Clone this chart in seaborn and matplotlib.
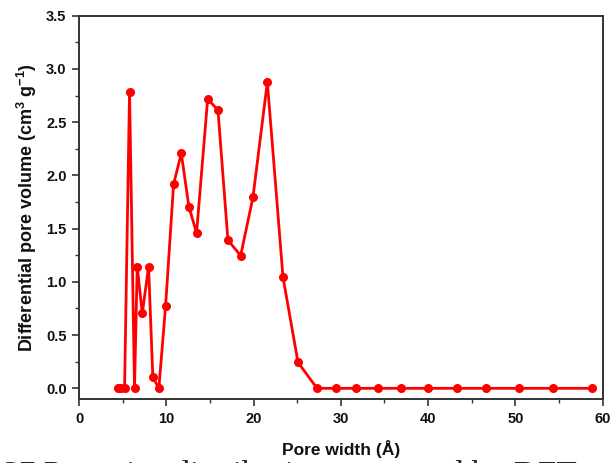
import numpy as np
import pandas as pd
import matplotlib
matplotlib.use("Agg")
import matplotlib.pyplot as plt
from matplotlib.ticker import MultipleLocator
import seaborn as sns

# pore width (Å) and differential pore volume (cm3 g-1)
pore_width = [4.45, 4.84, 5.22, 5.79, 6.36, 6.67, 7.25, 7.97, 8.46, 9.15,
              9.92, 10.84, 11.72, 12.59, 13.47, 14.74, 15.92, 17.06, 18.52,
              19.93, 21.58, 23.37, 25.09, 27.27, 29.42, 31.79, 34.27, 36.9,
              40.0, 43.26, 46.6, 50.4, 54.3, 58.8]
pore_volume = [0.0, 0.0, 0.0, 2.786, 0.0, 1.142, 0.704, 1.142, 0.103, 0.0,
               0.773, 1.919, 2.207, 1.706, 1.459, 2.717, 2.614, 1.393, 1.246,
               1.794, 2.877, 1.045, 0.244, 0.0, 0.0, 0.0, 0.0, 0.0,
               0.0, 0.0, 0.0, 0.0, 0.0, 0.0]

df = pd.DataFrame({"width": pore_width, "volume": pore_volume})

sns.set_style("ticks")
plt.rcParams["font.family"] = ["Liberation Sans", "DejaVu Sans"]
plt.rcParams["font.weight"] = "bold"
plt.rcParams["mathtext.fontset"] = "custom"
plt.rcParams["mathtext.bf"] = "Liberation Sans:bold"
plt.rcParams["mathtext.rm"] = "Liberation Sans"

fig = plt.figure(figsize=(6.11, 4.63), dpi=100)
ax = fig.add_axes([0.1293, 0.1376, 0.8571, 0.8285])

sns.lineplot(data=df, x="width", y="volume", ax=ax, color="#ff0000",
             linewidth=2.0, marker="o", markersize=6.5,
             markeredgecolor="#ff0000", markeredgewidth=0)

ax.set_xlim(0, 60)
ax.set_ylim(-0.103, 3.5)
ax.xaxis.set_major_locator(MultipleLocator(10))
ax.xaxis.set_minor_locator(MultipleLocator(5))
ax.yaxis.set_major_locator(MultipleLocator(0.5))
ax.yaxis.set_minor_locator(MultipleLocator(0.25))
ax.yaxis.set_major_formatter(matplotlib.ticker.FormatStrFormatter("%.1f"))

ax.tick_params(which="major", direction="out", length=5, width=1.2,
               labelsize=10.5, pad=4, top=False, right=False,
               labelcolor="#111111", color="#333333")
ax.tick_params(which="minor", direction="out", length=3, width=1.0,
               top=False, right=False, color="#333333")
for lab in ax.get_xticklabels() + ax.get_yticklabels():
    lab.set_fontweight("bold")

for s in ax.spines.values():
    s.set_visible(True)
    s.set_linewidth(1.4)
    s.set_color("#333333")

ax.set_xlabel("Pore width (Å)", fontsize=12.5, fontweight="bold", labelpad=10,
              color="#111111")
ax.set_ylabel("Differential pore volume (cm$^\\mathbf{3}$ g$^\\mathbf{-1}$)",
              fontsize=13, fontweight="bold", labelpad=5, color="#111111")

fig.text(0.0, 0.006, "S7 Pore size distribution measured by DFT",
         fontsize=24, family=["Liberation Serif", "DejaVu Serif"],
         fontweight="normal", ha="left", va="top")

fig.savefig("out.png", dpi=100)
